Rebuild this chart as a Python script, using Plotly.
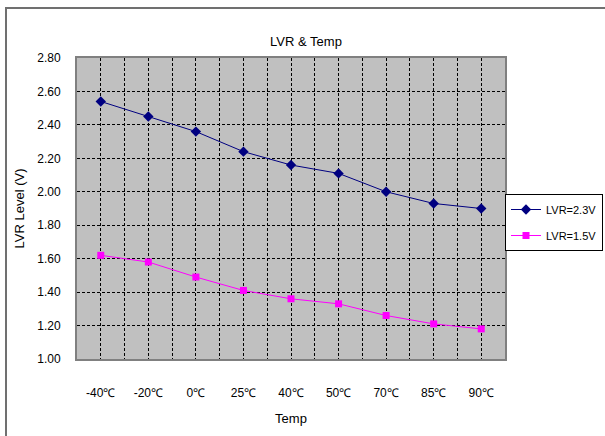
import plotly.graph_objects as go

temps = ["-40℃", "-20℃", "0℃", "25℃", "40℃", "50℃", "70℃", "85℃", "90℃"]
lvr_23 = [2.54, 2.45, 2.36, 2.24, 2.16, 2.11, 2.00, 1.93, 1.90]
lvr_15 = [1.62, 1.58, 1.49, 1.41, 1.36, 1.33, 1.26, 1.21, 1.18]
y_ticks = [1.0, 1.2, 1.4, 1.6, 1.8, 2.0, 2.2, 2.4, 2.6, 2.8]

font_fam = "Liberation Sans, Arial, sans-serif"
xs = list(range(len(temps)))

fig = go.Figure()
fig.add_trace(go.Scatter(
    x=xs, y=lvr_23, name="LVR=2.3V", mode="lines+markers", legendgroup="a",
    line=dict(color="#000080", width=1),
    marker=dict(symbol="diamond", size=8, color="#000080")
))
fig.add_trace(go.Scatter(
    x=xs, y=lvr_15, name="LVR=1.5V", mode="lines+markers", legendgroup="b",
    line=dict(color="#FF00FF", width=1),
    marker=dict(symbol="square", size=7, color="#FF00FF")
))

# plot area in pixels
L, T, W, H = 77, 58, 428, 301
def px(x): return (x - L) / W
def py(y): return 1 - (y - T) / H

# outer chart frame (only top and left edges fall inside the image)
fig.add_shape(type="rect", xref="paper", yref="paper",
              x0=px(6), x1=px(640), y0=py(470), y1=py(8),
              line=dict(color="#707070", width=2), layer="below")

grid = dict(showgrid=True, gridcolor="black", griddash="3px,2px", gridwidth=1)

fig.update_layout(
    width=605, height=436,
    margin=dict(l=L, r=605 - L - W, t=T, b=436 - T - H, autoexpand=False),
    paper_bgcolor="white", plot_bgcolor="#C0C0C0",
    font=dict(family=font_fam, size=12, color="black"),
    title=dict(text="LVR & Temp", x=306 / 605, xanchor="center",
               y=1 - 41 / 436, yanchor="middle", font=dict(size=13)),
    legend=dict(x=px(603), y=py(194), xanchor="right", yanchor="top",
                bordercolor="black", borderwidth=1, bgcolor="white",
                font=dict(size=11), tracegroupgap=7, itemwidth=30),
    showlegend=True,
)
fig.update_xaxes(
    range=[-0.5, len(temps) - 0.5],
    tickmode="array", tickvals=xs, ticktext=temps,
    minor=dict(tickmode="array", tickvals=[i - 0.5 for i in xs], **grid),
    showline=True, linecolor="#808080", linewidth=2, mirror=True,
    ticks="", ticklabelstandoff=22, zeroline=False,
    title=dict(text="Temp", standoff=14, font=dict(size=13)),
    **grid,
)
fig.update_yaxes(
    range=[1.0, 2.8], tickvals=y_ticks, tickformat=".2f",
    showline=True, linecolor="#808080", linewidth=2, mirror=True,
    ticks="", ticklabelstandoff=12, zeroline=False,
    title=dict(text="LVR Level (V)", standoff=10, font=dict(size=13)),
    **grid,
)

fig.write_html("out.html", config={"displayModeBar": False},
               post_script="document.body.style.margin='0';")
